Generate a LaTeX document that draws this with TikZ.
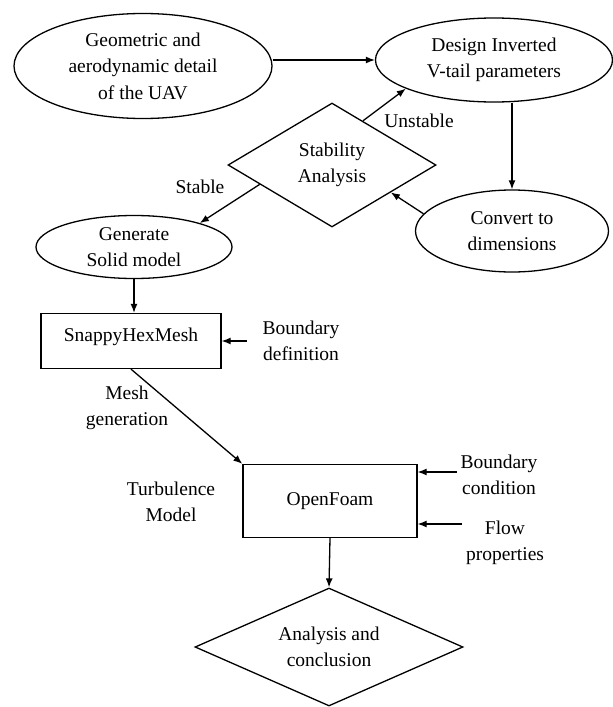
\documentclass[tikz,border=0pt]{standalone}
\usepackage{fontspec}
\setmainfont{Liberation Serif}
\usetikzlibrary{shapes.geometric,arrows.meta}

\begin{document}
\begin{tikzpicture}[>={Latex[length=9pt,width=7pt]},x=1pt,y=-1pt,line width=1.3pt,
    font=\fontsize{19.5}{26.5}\selectfont,
    oval/.style={draw,ellipse,inner sep=0pt,align=center},
    box/.style={draw,rectangle,inner sep=0pt,align=center},
    choice/.style={draw,diamond,inner sep=0pt,align=center},
    lbl/.style={align=center}]
\useasboundingbox (0,0) rectangle (613,707);
            \node[oval,minimum width=258pt,minimum height=105pt] (geo) at (143,66) {Geometric and\\aerodynamic detail\\of the UAV};
            \node[oval,minimum width=237pt,minimum height=84pt] (design) at (494,60) {Design Inverted\\V-tail parameters};
            \node[choice,shape aspect=1.68,minimum width=208pt,minimum height=124pt] (stab) at (332,165) {Stability\\Analysis};
            \node[oval,minimum width=196pt,minimum height=63pt] (solid) at (134,247) {Generate\\Solid model};
            \node[oval,minimum width=193pt,minimum height=82pt] (conv) at (512,231) {Convert to\\dimensions};
            \node[box,minimum width=180pt,minimum height=55pt,text depth=12pt] (snappy) at (131,341) {SnappyHexMesh};
            \node[box,minimum width=174pt,minimum height=73pt] (ofoam) at (330,501) {OpenFoam};
            \node[choice,shape aspect=2.27,minimum width=268pt,minimum height=118pt] (anal) at (329,647) {Analysis and\\conclusion};
            \node[lbl] (unst) at (419,121) {Unstable};
            \node[lbl] (stbl) at (200,187) {Stable};
            \node[lbl,inner xsep=15pt] (bdef) at (301,341) {Boundary\\definition};
            \node[lbl] (mesh) at (127,408) {Mesh\\generation};
            \node[lbl] (turb) at (171,502) {Turbulence\\Model};
            \node[lbl] (bcond) at (499,475) {Boundary\\condition};
            \node[lbl] (flow) at (505,543) {Flow\\properties};
            \coordinate (bcin) at ([yshift=3pt]bcond.west);
            \coordinate (flowin) at ([yshift=19pt]flow.west);
            \draw[->] (geo.east |- design.west) -- (design.west);
            \draw[->] (design.south -| conv.north) -- (conv.north);
            \draw[->] (conv.169) -- (stab.-25);
            \draw[->] (stab.55) -- (design.198);
            \draw[->] (stab.195) -- (solid.20);
            \draw[->] (solid.south) -- (solid.south |- snappy.north);
            \draw[->] (bdef) -- (snappy);
            \draw[->] (snappy.south) -- (ofoam.north west);
            \draw[->] (bcin) -- (bcin -| ofoam.east);
            \draw[->] (flowin) -- (flowin -| ofoam.east);
            \draw[->] (ofoam.south) -- (anal.north);
        \end{tikzpicture}
\end{document}
